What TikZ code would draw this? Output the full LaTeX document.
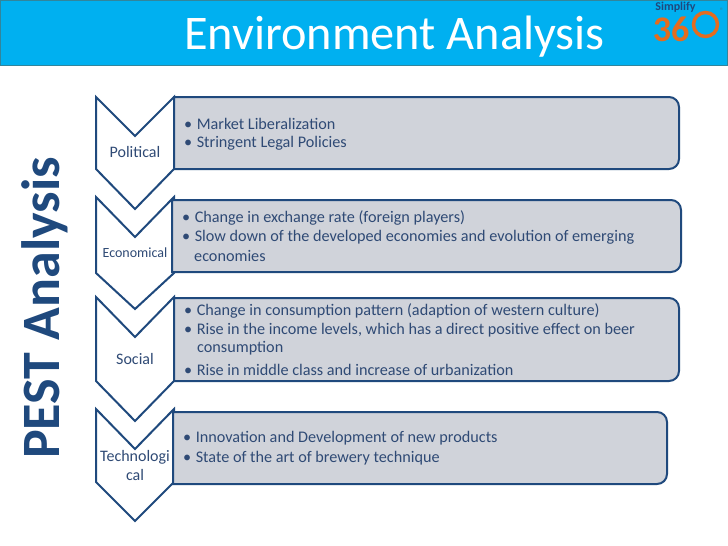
\documentclass[tikz,border=0pt]{standalone}
\usepackage{fontspec}
\setmainfont{Carlito}
\definecolor{hdr}{HTML}{00B0F0}
\definecolor{hdrline}{HTML}{31859C}
\definecolor{navy}{HTML}{1F497D}
\definecolor{boxfill}{HTML}{D0D3DA}
\definecolor{bodytext}{HTML}{2F4A75}
\definecolor{logoorange}{HTML}{E46C1E}
\tikzset{
  chevron/.style={draw=navy,line width=2pt,fill=white,line join=miter},
  panel/.style={draw=navy,line width=2pt,fill=boxfill},
  label/.style={text=bodytext,font=\fontsize{16}{19}\selectfont,align=center,inner sep=0pt},
  line/.style={text=bodytext,font=\fontsize{16.2}{19}\selectfont,anchor=west,inner sep=0pt},
}
\newcommand{\chev}[4]{% top, notch, side bottom, tip
  \draw[chevron] (96,#1) -- (135,#2) -- (174,#1) -- (174,#3) -- (135,#4) -- (96,#3) -- cycle;}
\newcommand{\panelbox}[4]{% xl, xr, yt, yb
  \draw[panel] (#1,#3) -- (#2-10,#3) arc[start angle=90,end angle=0,x radius=10,y radius=-10]
    -- (#2,#4-10) arc[start angle=0,end angle=-90,x radius=10,y radius=-10] -- (#1,#4) -- cycle;}
\begin{document}
\begin{tikzpicture}[x=1pt,y=-1pt]
\useasboundingbox (0,0) rectangle (728,546);
\fill[white] (0,0) rectangle (728,546);
\draw[fill=hdr,draw=hdrline,line width=1.2pt] (0.5,0.5) rectangle (727.5,65.5);
\node[text=white,font=\fontsize{48.3}{56}\selectfont,inner sep=0pt] (title) at (394.5,36.5) {Environment Analysis};
\node[text=navy,font=\fontsize{54}{60}\selectfont\bfseries,rotate=90,inner sep=0pt] (pest) at (45,308) {PEST Analysis};
% logo
\node[text=navy,font=\fontsize{12}{13}\selectfont\bfseries,inner sep=0pt] (simplify) at (675.5,7) {Simplify};
\node[text=logoorange,font=\fontsize{36}{38}\selectfont\bfseries,inner sep=0pt] (logo36) at (671,29) {36};
\draw[logoorange,line width=3.5pt] (705.5,24.5) circle[radius=12];
\node[text=hdrline,font=\fontsize{8}{9}\selectfont,inner sep=0pt] (reg) at (722,11) {®};
% chevrons
\chev{97}{136}{169}{209}
\chev{197}{237}{273}{309}
\chev{297}{337}{381}{421}
\chev{409}{449}{482}{521}
% panels
\panelbox{174}{679}{97}{169}
\panelbox{172}{681}{200}{272}
\panelbox{174}{679}{298}{381}
\panelbox{173}{667}{412}{484}
% labels
\node[label] (l1) at (135,152) {Political};
\node[label,font=\fontsize{14}{17}\selectfont] (l2) at (135,253) {Economical};
\node[label] (l3) at (135,359) {Social};
\node[label,text width=74pt] (l4) at (135,465) {Technologi\\[0pt]cal};
% panel text
\node[line] (a1) at (184,123.5) {•\hspace{4.5pt}Market Liberalization};
\node[line] (a2) at (184,143.5) {•\hspace{4.5pt}Stringent Legal Policies};
\node[line] (b1) at (182,217.5) {•\hspace{4.5pt}Change in exchange rate (foreign players)};
\node[line] (b2) at (182,237.5) {•\hspace{4.5pt}Slow down of the developed economies and evolution of emerging};
\node[line] (b3) at (194,255.5) {economies};
\node[line] (c1) at (184,310.5) {•\hspace{4.5pt}Change in consumption pattern (adaption of western culture)};
\node[line] (c2) at (184,330.5) {•\hspace{4.5pt}Rise in the income levels, which has a direct positive effect on beer};
\node[line] (c3) at (197,348.5) {consumption};
\node[line] (c4) at (184,369.5) {•\hspace{4.5pt}Rise in middle class and increase of urbanization};
\node[line] (d1) at (183,438.5) {•\hspace{4.5pt}Innovation and Development of new products};
\node[line] (d2) at (183,458.5) {•\hspace{4.5pt}State of the art of brewery technique};
\end{tikzpicture}
\end{document}
